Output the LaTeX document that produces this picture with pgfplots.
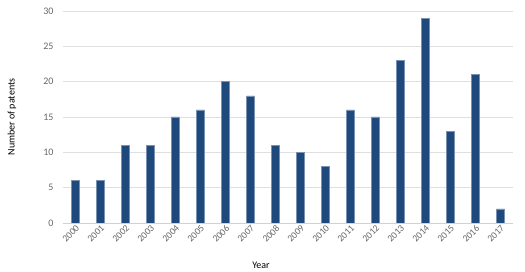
\documentclass[border=0pt]{standalone}
\usepackage{pgfplots}
\pgfplotsset{compat=1.18}
\usepackage{fontspec}
\setmainfont{Carlito}
\definecolor{barblue}{HTML}{1F497D}
\definecolor{ticktxt}{HTML}{666666}
\begin{document}
\begin{tikzpicture}
\path[use as bounding box] (-63pt,-49pt) rectangle (462pt,223pt);
\begin{axis}[
  scale only axis,
  width=450pt, height=212pt,
  at={(0,0)}, anchor=south west,
  xmin=-0.5, xmax=17.5, ymin=0, ymax=30,
  ytick={0,5,...,30},
  xtick={0,...,17},
  xticklabels={2000,2001,2002,2003,2004,2005,2006,2007,2008,2009,2010,2011,2012,2013,2014,2015,2016,2017},
  x tick label style={rotate=45, anchor=north east, font=\fontsize{9.5}{11}\selectfont, text=ticktxt, inner sep=1pt},
  y tick label style={font=\fontsize{10}{12}\selectfont, text=ticktxt},
  /pgf/number format/assume math mode=true,
  major tick length=0pt,
  ymajorgrids,
  grid style={gray!25, line width=0.8pt},
  axis x line*=bottom,
  axis y line*=left,
  x axis line style={gray!35, line width=0.8pt, -},
  y axis line style={draw=none},
  xlabel={Year},
  ylabel={Number of patents},
  every axis x label/.style={font=\fontsize{10}{12}\selectfont, at={(axis description cs:0.44,-0.198)}, anchor=center},
  every axis y label/.style={font=\fontsize{10}{12}\selectfont, at={(axis description cs:-0.1133,0.5)}, anchor=center, rotate=90},
  ybar, bar width=8pt,
  yticklabel style={xshift=-6pt},
]
\addplot[fill=barblue, draw=barblue!60!white, line width=0.4pt] coordinates {
(0,6) (1,6) (2,11) (3,11) (4,15) (5,16) (6,20) (7,18) (8,11) (9,10)
(10,8) (11,16) (12,15) (13,23) (14,29) (15,13) (16,21) (17,2)
};
\end{axis}
\end{tikzpicture}
\end{document}
